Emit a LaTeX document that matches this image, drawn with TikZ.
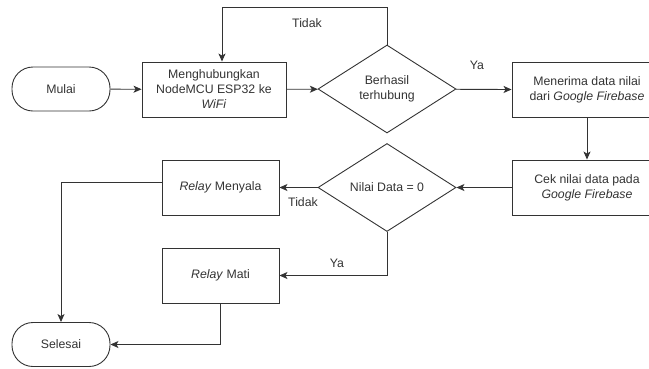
\documentclass[tikz,border=0pt]{standalone}
\usepackage{fontspec}
\setmainfont{Liberation Sans}
\usetikzlibrary{shapes.geometric,arrows.meta}
\definecolor{ink}{HTML}{333333}
\tikzset{
  every node/.style={text=ink, font=\fontsize{12.3}{15}\selectfont},
  proc/.style={draw=ink, line width=0.9pt, rectangle, inner sep=0pt, align=center},
  term/.style={draw=ink, line width=0.9pt, rectangle, rounded corners=21pt, minimum width=98pt, minimum height=44pt, inner sep=0pt},
  dec/.style={draw=ink, line width=0.9pt, diamond, aspect=1.57, minimum width=138pt, minimum height=88pt, inner sep=0pt, align=center},
  conn/.style={draw=ink, line width=0.9pt, -{Stealth[length=8pt,width=7pt,inset=2pt]}},
  lbl/.style={inner sep=0pt}
}
\begin{document}
\begin{tikzpicture}[x=1pt,y=-1pt]
\useasboundingbox (0,0) rectangle (649,368);
\clip (0,0) rectangle (649,368);
\node[term] (mulai) at (61,89) {Mulai};
\node[proc, minimum width=144pt, minimum height=55pt] (b1) at (214,89.5) {Menghubungkan\\NodeMCU ESP32 ke\\\textit{WiFi}};
\node[dec] (d1) at (387,89) {Berhasil\\terhubung};
\node[proc, minimum width=150pt, minimum height=55pt] (b2) at (587,89.5) {Menerima data nilai\\dari \textit{Google Firebase}};
\node[proc, minimum width=150pt, minimum height=55pt] (b3) at (587,187.5) {Cek nilai data pada\\\textit{Google Firebase}};
\node[dec] (d2) at (387,187.5) {Nilai Data = 0};
\node[proc, minimum width=117pt, minimum height=55pt] (rm) at (220.5,187.5) {\textit{Relay} Menyala};
\node[proc, minimum width=117pt, minimum height=55pt] (rx) at (220.5,275.5) {\textit{Relay} Mati};
\node[term] (sel) at (61,344.5) {Selesai};
\coordinate (top) at (387,7);
\node[lbl] (t1) at (307,23) {Tidak};
\node[lbl] (y1) at (477,65) {Ya};
\node[lbl] (t2) at (303,202) {Tidak};
\node[lbl] (y2) at (337,263) {Ya};
\draw[conn] (mulai) -- (b1);
\draw[conn] (b1) -- (d1);
\draw[conn] (d1.north) -- (d1.north |- top) -| ([xshift=8pt]b1.north);
\draw[conn] (d1) -- (b1.east -| b2.west);
\draw[conn] (b2) -- (b3);
\draw[conn] (b3) -- (d2);
\draw[conn] (d2) -- (rm);
\draw[conn] (d2.south) |- (rx.east);
\draw[conn] ([yshift=5pt]rm.west) -| (sel.north);
\draw[conn] (rx.south) |- (sel.east);
\end{tikzpicture}
\end{document}
